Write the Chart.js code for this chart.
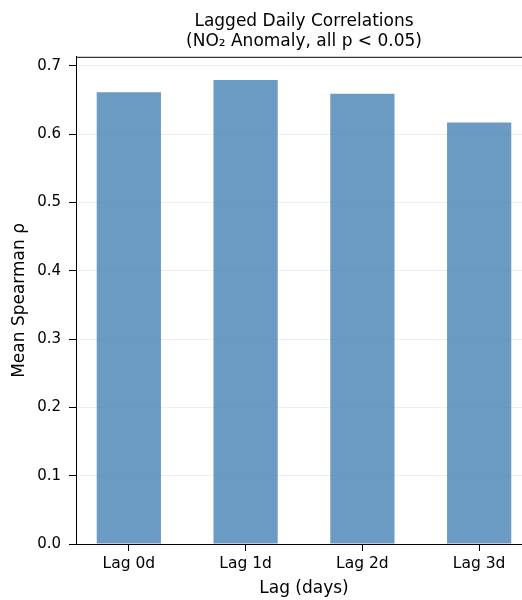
<!DOCTYPE html>
<html>
<head>
<meta charset="utf-8">
<script src="https://cdn.jsdelivr.net/npm/chart.js@4.4.1/dist/chart.umd.min.js"></script>
<style>
  html, body { margin: 0; padding: 0; background: #fff; overflow: hidden; }
  #wrap { width: 522px; height: 600px; overflow: hidden; }
</style>
</head>
<body>
<div id="wrap"><canvas id="lag-chart" width="532" height="600"></canvas></div>
<script>
const lagLabels = ['Lag 0d', 'Lag 1d', 'Lag 2d', 'Lag 3d'];
const lagPositions = [0, 1, 2, 3];
const meanRho = [0.661, 0.679, 0.659, 0.617];
const yTickStep = 0.1;

const font = 'DejaVu Sans';

// matplotlib draws a top spine, chart.js does not
const topSpine = {
  id: 'topSpine',
  afterDraw(chart) {
    const { ctx, chartArea } = chart;
    ctx.save();
    ctx.strokeStyle = '#000';
    ctx.lineWidth = 1;
    ctx.beginPath();
    ctx.moveTo(chartArea.left, chartArea.top + 0.5);
    ctx.lineTo(chartArea.right, chartArea.top + 0.5);
    ctx.stroke();
    ctx.restore();
  },
};

new Chart(document.getElementById('lag-chart'), {
  type: 'bar',
  data: {
    datasets: [{
      data: lagPositions.map((x, i) => ({ x, y: meanRho[i] })),
      backgroundColor: 'rgba(70, 130, 180, 0.8)',
      borderWidth: 0,
      categoryPercentage: 1,
      barPercentage: 0.55,
    }],
  },
  options: {
    responsive: false,
    animation: false,
    layout: { padding: 0 },
    plugins: {
      legend: { display: false },
      tooltip: { enabled: false },
      title: {
        display: true,
        fullSize: false,
        text: ['Lagged Daily Correlations', '(NO\u2082 Anomaly, all p < 0.05)'],
        color: '#000',
        font: { family: font, size: 17, weight: 'normal', lineHeight: 1.2 },
        padding: { top: 11, bottom: 5 },
      },
    },
    scales: {
      x: {
        type: 'linear',
        offset: false,
        min: -0.4525,
        max: 3.4525,
        afterFit: (scale) => { scale.height = 56; },
        ticks: {
          stepSize: 1,
          includeBounds: false,
          color: '#000',
          padding: 4,
          font: { family: font, size: 15.5 },
          callback: (value) => lagLabels[value] ?? '',
        },
        grid: { drawOnChartArea: false, offset: false, tickLength: 7, tickColor: '#000' },
        border: { color: '#000', width: 1 },
        title: {
          display: true,
          text: 'Lag (days)',
          color: '#000',
          font: { family: font, size: 17 },
          padding: { top: 0, bottom: 1 },
        },
      },
      y: {
        min: 0,
        max: 0.713,
        afterFit: (scale) => { scale.width = 76; },
        ticks: {
          stepSize: yTickStep,
          includeBounds: false,
          color: '#000',
          padding: 8,
          font: { family: font, size: 15 },
          callback: (value) => value.toFixed(1),
        },
        grid: { color: 'rgba(0, 0, 0, 0.07)', tickLength: 7, tickColor: '#000' },
        border: { color: '#000', width: 1 },
        title: {
          display: true,
          text: 'Mean Spearman \u03c1',
          color: '#000',
          font: { family: font, size: 17 },
          padding: 9,
        },
      },
    },
  },
  plugins: [topSpine],
});
</script>
</body>
</html>
